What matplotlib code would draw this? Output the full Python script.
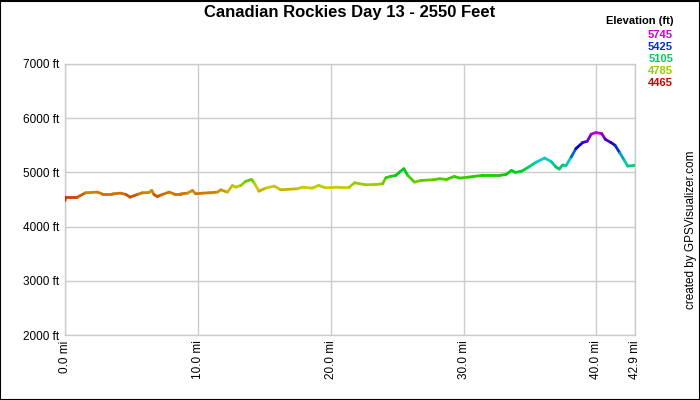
import matplotlib
matplotlib.use("Agg")
import matplotlib.pyplot as plt
import numpy as np
import colorsys
from matplotlib.collections import LineCollection

plt.rcParams['font.family'] = ['Liberation Sans', 'DejaVu Sans']

dist_mi = [0.0, 0.05, 0.93, 1.55, 2.43, 2.8, 3.56, 4.19, 4.57, 4.9, 5.45, 5.82, 6.33, 6.53,
           6.7, 6.95, 7.33, 7.83, 8.2, 8.71, 9.21, 9.59, 9.84, 10.34, 10.84, 11.47, 11.72,
           12.22, 12.6, 12.85, 13.23, 13.6, 14.05, 14.25, 14.6, 15.1, 15.74, 16.24, 17.5,
           17.87, 18.6, 19.1, 19.6, 20.6, 21.4, 21.8, 22.6, 23.4, 23.9, 24.15, 24.5, 24.9,
           25.15, 25.5, 25.8, 26.3, 26.8, 27.7, 28.2, 28.7, 29.3, 29.7, 30.4, 31.4, 32.7,
           33.2, 33.6, 33.9, 34.4, 34.9, 35.4, 36.1, 36.6, 36.95, 37.2, 37.45, 37.7, 38.1,
           38.45, 38.95, 39.3, 39.6, 39.95, 40.4, 40.66, 41.1, 41.4, 41.76, 42.1, 42.35, 42.9]
elev_ft = [4482, 4543, 4543, 4624, 4636, 4605, 4605, 4617, 4595, 4543, 4593, 4624, 4630, 4667,
           4590, 4555, 4593, 4636, 4605, 4605, 4617, 4667, 4605, 4617, 4624, 4636, 4679,
           4636, 4759, 4728, 4759, 4835, 4870, 4800, 4654, 4710, 4747, 4679, 4698,
           4728, 4710, 4760, 4716, 4728, 4728, 4809, 4772, 4778, 4790, 4901, 4926, 4944,
           5000, 5068, 4944, 4821, 4852, 4864, 4883, 4870, 4926, 4895, 4914, 4944, 4944,
           4963, 5037, 5000, 5025, 5099, 5180, 5265, 5198, 5099, 5062, 5136, 5123, 5284,
           5438, 5549, 5574, 5704, 5735, 5716, 5611, 5549, 5500, 5358, 5222, 5117, 5130]

x_ticks = [0.0, 10.0, 20.0, 30.0, 40.0, 42.9]
x_labels = ["0.0 mi", "10.0 mi", "20.0 mi", "30.0 mi", "40.0 mi", "42.9 mi"]
y_ticks = [2000, 3000, 4000, 5000, 6000, 7000]
y_labels = ["2000 ft", "3000 ft", "4000 ft", "5000 ft", "6000 ft", "7000 ft"]
legend_vals = [5745, 5425, 5105, 4785, 4465]
elev_min, elev_max = 4465, 5745
title = "Canadian Rockies Day 13 - 2550 Feet"


def elev_color(e):
    f = (e - elev_min) / (elev_max - elev_min)
    f = min(max(f, 0), 1)
    return colorsys.hsv_to_rgb(f * 300 / 360, 1.0, 0.8)


fig = plt.figure(figsize=(7, 4), dpi=100)
fig.patch.set_facecolor('white')
fig.add_artist(plt.Rectangle((0.0007, 0.001), 0.9986, 0.9975, transform=fig.transFigure,
                             fill=False, edgecolor='black', linewidth=1.5))

ax = fig.add_axes([65 / 700, 1 - 335 / 400, 570 / 700, 271 / 400])
ax.set_xlim(0, 42.9)
ax.set_ylim(2000, 7000)

x = np.array(dist_mi)
y = np.array(elev_ft)
pts = np.column_stack([x, y]).reshape(-1, 1, 2)
segs = np.concatenate([pts[:-1], pts[1:]], axis=1)
cols = [elev_color((a + b) / 2) for a, b in zip(y[:-1], y[1:])]
lc = LineCollection(segs, colors=cols, linewidths=2, capstyle='round', joinstyle='round', zorder=3)
ax.add_collection(lc)

ax.set_xticks(x_ticks)
ax.set_xticklabels(x_labels, rotation=90, fontsize=8.5)
ax.set_yticks(y_ticks)
ax.set_yticklabels(y_labels, fontsize=8.5)
ax.tick_params(length=0, pad=4)
ax.grid(True, color='#cccccc', linewidth=1)
for s in ax.spines.values():
    s.set_color('#cccccc')
    s.set_linewidth(1)

fig.text(0.5, 1 - 13 / 400, title, ha='center', va='center', fontsize=12, fontweight='bold')
fig.text(673 / 700, 1 - 21 / 400, "Elevation (ft)", ha='right', va='center', fontsize=8, fontweight='bold')
for i, v in enumerate(legend_vals):
    fig.text(673 / 700, 1 - (35 + 12 * i) / 400, str(v), ha='right', va='center', fontsize=8,
             fontweight='bold', color=elev_color(v))
fig.text(691 / 700, 1 - 230 / 400, "created by GPSVisualizer.com", rotation=90, ha='center',
         va='center', fontsize=8.5)

fig.savefig('out.png', dpi=100)
